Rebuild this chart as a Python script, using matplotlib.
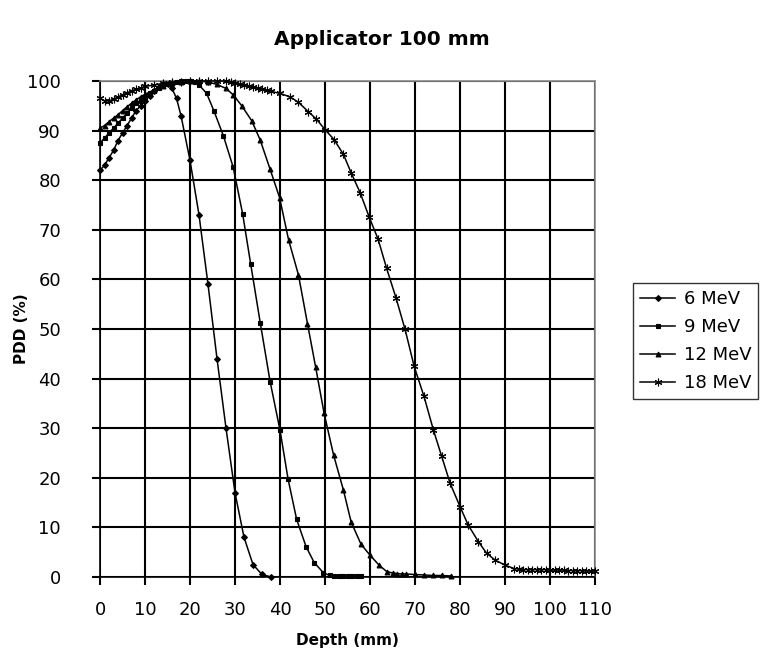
import numpy as np
import matplotlib.pyplot as plt

plt.rcParams['font.family'] = ['DejaVu Sans']

# depth (mm) and PDD (%)
depth_6 = [0, 1, 2, 3, 4, 5, 6, 7, 8, 9, 10, 11, 12, 13, 14, 15, 16, 17, 18,
           20, 22, 24, 26, 28, 30, 32, 34, 36, 38]
pdd_6 = [82, 83, 84.5, 86, 88, 89.5, 91, 92.5, 94, 95, 96, 97, 98, 98.8, 99.3,
         99.3, 98.5, 96.5, 93, 84, 73, 59, 44, 30, 17, 8, 2.5, 0.5, 0]

depth_9 = [0, 1, 2, 3, 4, 5, 6, 7, 8, 9, 10, 11, 12, 13, 14, 15, 16, 17, 18,
           19, 20, 21, 22, 23.7, 25.3, 27.4, 29.6, 31.7, 33.5, 35.6, 37.8, 40,
           41.8, 43.7, 45.8, 47.6, 49.6, 51, 52, 53, 54, 55, 56, 57, 58]
pdd_9 = [87.5, 88.5, 89.5, 90.5, 91.5, 92.5, 93.5, 94.5, 95.5, 96, 96.8, 97.5,
         98, 98.5, 99, 99.3, 99.6, 99.8, 100, 100, 100, 99.8, 99.2, 97.5, 94,
         89, 82.6, 73.2, 63, 51.3, 39.4, 29.6, 19.7, 11.6, 6.1, 2.9, 0.9, 0.3,
         0.2, 0.2, 0.2, 0.2, 0.2, 0.2, 0.2]

depth_12 = [0, 1, 2, 3, 4, 5, 6, 7, 8, 9, 10, 12, 14, 16, 18, 20, 22, 24, 26,
            28, 29.6, 31.5, 33.7, 35.6, 37.8, 39.9, 41.9, 44.1, 46.1, 47.9,
            49.8, 51.9, 54.1, 55.8, 58, 60, 62, 63.7, 65, 66, 67, 68, 70, 72,
            74, 76, 78]
pdd_12 = [90.5, 91, 91.8, 92.5, 93.2, 94, 94.8, 95.5, 96.2, 96.8, 97.3, 98.2,
          99, 99.5, 99.8, 100, 100, 99.8, 99.3, 98.5, 97.2, 95, 92, 88.1, 82.2,
          76.5, 68, 60.9, 51.1, 42.4, 33, 24.6, 17.5, 11.1, 6.6, 4.4, 2.4, 1.1,
          0.8, 0.7, 0.6, 0.6, 0.5, 0.4, 0.3, 0.3, 0.2]

depth_18 = [0, 1, 2, 3, 4, 5, 6, 7, 8, 9, 10, 12, 14, 16, 18, 20, 22, 24, 26,
            28, 29, 30, 31, 32, 33, 34, 35, 36, 37, 38, 40, 42.2, 44.1, 46.3,
            48.1, 50, 52, 54.1, 55.8, 57.8, 59.8, 61.8, 63.7, 65.8, 67.8, 69.8,
            72, 74.1, 75.9, 77.8, 80, 81.8, 84.1, 85.9, 87.8, 90, 92, 93, 94,
            95, 96, 97, 98, 99, 100, 101, 102, 103, 104, 105, 106, 107, 108,
            109, 110]
pdd_18 = [96.5, 96, 96, 96.3, 96.8, 97.2, 97.6, 98, 98.3, 98.6, 98.9, 99.2,
          99.5, 99.7, 99.8, 99.9, 100, 100, 100, 100, 99.8, 99.6, 99.4, 99.2,
          99, 98.8, 98.6, 98.3, 98.1, 97.9, 97.5, 96.8, 95.7, 93.8, 92.3, 90.2,
          88.2, 85.2, 81.5, 77.5, 72.6, 68.1, 62.2, 56.2, 49.9, 42.5, 36.4,
          29.6, 24.4, 18.9, 14.2, 10.5, 7.1, 4.8, 3.4, 2.4, 1.7, 1.6, 1.5, 1.5,
          1.5, 1.5, 1.5, 1.5, 1.4, 1.4, 1.4, 1.4, 1.3, 1.3, 1.3, 1.3, 1.2, 1.2,
          1.2]

series = [
    ('6 MeV', depth_6, pdd_6, 'D', 3),
    ('9 MeV', depth_9, pdd_9, 's', 3),
    ('12 MeV', depth_12, pdd_12, '^', 3.5),
    ('18 MeV', depth_18, pdd_18, (6, 2, 0), 5.5),
]

fig = plt.figure(figsize=(7.64, 6.6), dpi=100)
ax = fig.add_axes([0.1309, 0.1258, 0.6479, 0.7515])

for label, x, y, m, ms in series:
    ax.plot(x, y, color='black', lw=1.1, marker=m, ms=ms, mew=0.8,
            mfc='black', mec='black', label=label, clip_on=False, zorder=3)

ax.set_xlim(0, 110)
ax.set_ylim(0, 100)
ax.set_xticks(np.arange(0, 111, 10))
ax.set_yticks(np.arange(0, 101, 10))
ax.grid(True, color='black', lw=1.5)
ax.set_axisbelow(True)
ax.tick_params(direction='out', length=6, width=1.5, labelsize=13)
ax.tick_params(axis='y', pad=22)
ax.tick_params(axis='x', pad=11)
for s in ax.spines.values():
    s.set_linewidth(1.2)
ax.spines['right'].set_color('#888888')
ax.spines['top'].set_color('#888888')

ax.set_xlabel('Depth (mm)', fontsize=11, fontweight='bold')
ax.set_ylabel('PDD (%)', fontsize=11, fontweight='bold')
ax.xaxis.set_label_coords(0.5, -0.113)
ax.yaxis.set_label_coords(-0.143, 0.5)
fig.text(0.5, 0.94, 'Applicator 100 mm', ha='center', va='center',
         fontsize=14.5, fontweight='bold')

leg = fig.legend(loc='upper left', bbox_to_anchor=(0.8285, 0.571),
                 borderaxespad=0, fontsize=13, frameon=True, fancybox=False,
                 handlelength=1.95, handletextpad=0.45, labelspacing=0.55,
                 borderpad=0.4)
leg.get_frame().set_edgecolor('black')
leg.get_frame().set_linewidth(1)

fig.savefig('out.png', dpi=100)
